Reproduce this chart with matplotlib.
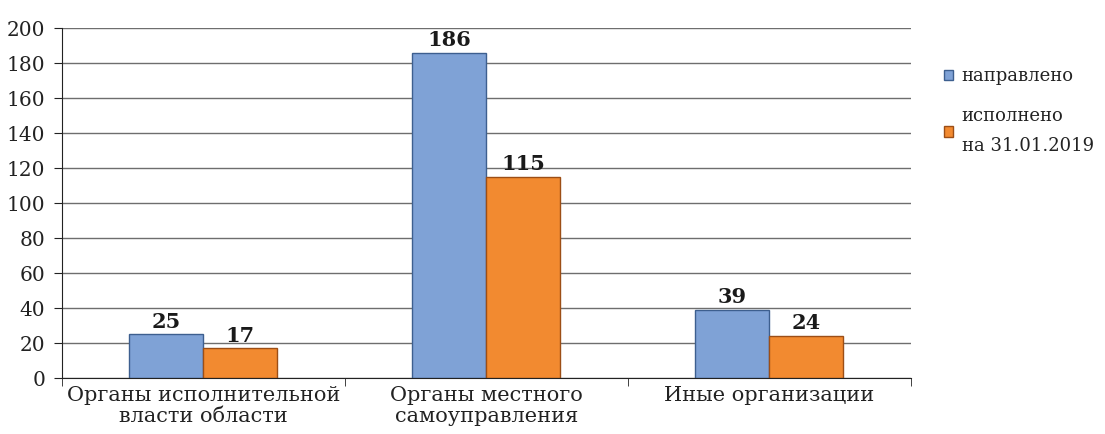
import matplotlib.pyplot as plt
import numpy as np

categories = ['Органы исполнительной\nвласти области', 'Органы местного\nсамоуправления', 'Иные организации']
sent = [25, 186, 39]
done = [17, 115, 24]
series_names = ['направлено', 'исполнено\nна 31.01.2019']

plt.rcParams['font.family'] = ['DejaVu Serif']

fig = plt.figure(figsize=(11.05, 4.34), dpi=100)
ax = fig.add_axes([0.056, 0.129, 0.768, 0.806])

x = np.arange(len(categories))
w = 0.262
b1 = ax.bar(x - w/2, sent, w, color='#7fa2d6', edgecolor='#3d5f8f', linewidth=1.0, label=series_names[0])
b2 = ax.bar(x + w/2, done, w, color='#f28a30', edgecolor='#9c4e16', linewidth=1.0, label=series_names[1])

for bars, vals in ((b1, sent), (b2, done)):
    for r, v in zip(bars, vals):
        ax.text(r.get_x() + r.get_width()/2, v + 1.5, str(v), ha='center', va='bottom',
                fontsize=15, fontweight='bold', color='#1a1a1a')

ax.set_xlim(-0.5, 2.5)
ax.set_ylim(0, 200)
ax.set_yticks(range(0, 201, 20))
ax.yaxis.grid(True, color='#6e6e6e', linewidth=1.0)
ax.set_axisbelow(True)
for s in ['top', 'right']:
    ax.spines[s].set_visible(False)
ax.spines['left'].set_color('#222222')
ax.spines['bottom'].set_color('#222222')

ax.set_xticks(x)
ax.set_xticklabels(categories, fontsize=15, color='#222222', linespacing=1.1)
ax.tick_params(axis='x', length=0, pad=6)
ax.set_xticks([-0.5, 0.5, 1.5, 2.5], minor=True)
ax.tick_params(axis='x', which='minor', length=6, color='#222222')
ax.tick_params(axis='y', labelsize=14.5, labelcolor='#222222', length=6, color='#222222', pad=6)

leg = ax.legend(loc='upper left', bbox_to_anchor=(1.02, 0.935), frameon=False, fontsize=13,
                handlelength=0.5, handleheight=0.5, handletextpad=0.5, labelspacing=1.2,
                labelcolor='#222222')
leg.get_texts()[1].set_linespacing(1.85)

fig.savefig('out.png', dpi=100)
